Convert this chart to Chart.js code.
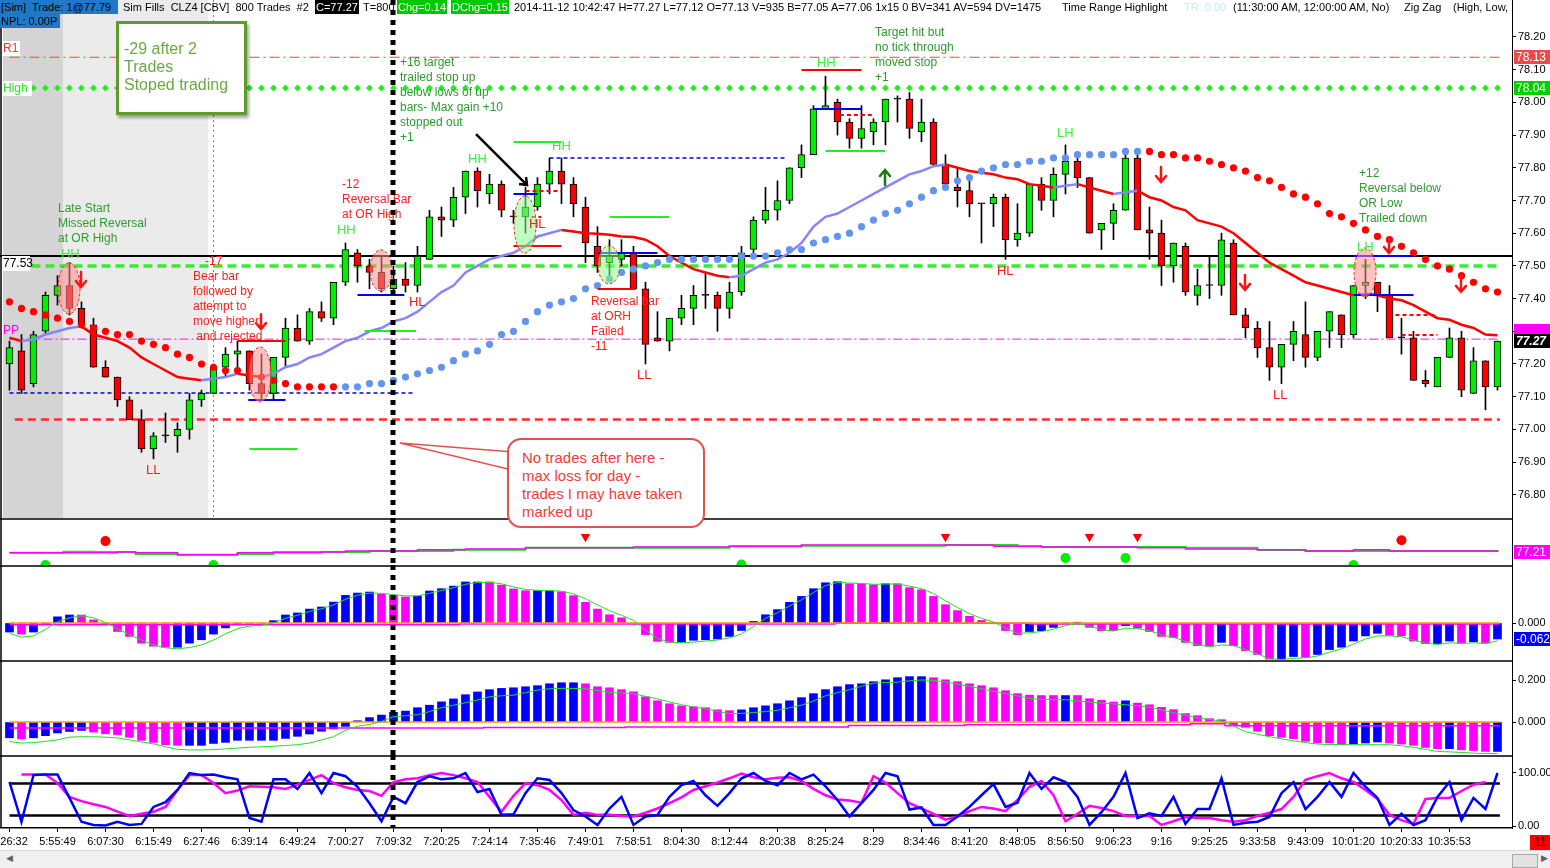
<!DOCTYPE html>
<html>
<head>
<meta charset="utf-8">
<title>CLZ4 800 Trades</title>
<script src="https://cdn.jsdelivr.net/npm/chart.js@4.4.1/dist/chart.umd.min.js"></script>
<style>
  html, body { margin: 0; padding: 0; background: #fff; }
  body { width: 1550px; height: 868px; position: relative; overflow: hidden; font-family: "Liberation Sans", Arial, sans-serif; }
  canvas { position: absolute; left: 0; }
  .hd { position: absolute; height: 14px; line-height: 14px; font-size: 11px; white-space: pre; padding: 0 1px; z-index: 4; color: #000; }
  .note-box { position: absolute; left: 116px; top: 21px; width: 125px; height: 88px; border: 3px solid #5e9a2c; background: #fff;
    box-shadow: 2px 3px 3px rgba(0,0,0,0.35); color: #6aa843; font-size: 16px; line-height: 18px; padding: 0; z-index: 6; }
  .note-box div { position: absolute; left: 5px; }
  .callout { position: absolute; left: 507px; top: 438px; width: 194px; height: 86px; border: 2px solid #e0524c; border-radius: 14px;
    background: #fff; color: #f03c3c; font-size: 15px; line-height: 18px; z-index: 6; }
  .callout div { position: absolute; left: 13px; white-space: nowrap; }
  .scroll { position: absolute; left: 0; top: 850px; width: 1550px; height: 18px; background: #f0f0f0; border-top: 1px solid #d8d8d8; z-index: 4; }
  .thumb { position: absolute; left: 1512px; top: 3px; width: 24px; height: 12px; background: #e2e2e2; border: 1px solid #a8a8a8; }
  .arrow { position: absolute; top: 2px; font-size: 9px; color: #606060; }
  .count { position: absolute; left: 1530px; top: 835px; width: 20px; height: 15px; line-height: 15px; background: #ff0000; color: #000; font-size: 12px; text-align: center; z-index: 5; }
</style>
</head>
<body>
<canvas id="c-price" width="1550" height="518" style="top:0"></canvas>
<canvas id="c-signal" width="1550" height="47" style="top:518px"></canvas>
<canvas id="c-osc1" width="1550" height="95" style="top:565px"></canvas>
<canvas id="c-osc2" width="1550" height="95" style="top:660px"></canvas>
<canvas id="c-stoch" width="1550" height="95" style="top:755px"></canvas>

<div class="hd" style="left:0;top:0;width:116px;background:#1f78c8">[Sim]  Trade: 1@77.79</div>
<div class="hd" style="left:0;top:14px;width:58px;background:#1f78c8">NPL: 0.00P</div>
<div class="hd" style="left:122px;top:0">Sim Fills  CLZ4 [CBV]  800 Trades  #2</div>
<div class="hd" style="left:315px;top:0;background:#000;color:#fff">C=77.27</div>
<div class="hd" style="left:362px;top:0">T=800</div>
<div class="hd" style="left:397px;top:0;background:#00c800;color:#fff">Chg=0.14</div>
<div class="hd" style="left:451px;top:0;background:#00c800;color:#fff">DChg=0.15</div>
<div class="hd" style="left:513px;top:0">2014-11-12 10:42:47 H=77.27 L=77.12 O=77.13 V=935 B=77.05 A=77.06 1x15 0 BV=341 AV=594 DV=1475</div>
<div class="hd" style="left:1061px;top:0">Time Range Highlight</div>
<div class="hd" style="left:1183px;top:0;color:#bdeef5">TR: 0.00</div>
<div class="hd" style="left:1232px;top:0">(11:30:00 AM, 12:00:00 AM, No)</div>
<div class="hd" style="left:1403px;top:0">Zig Zag</div>
<div class="hd" style="left:1452px;top:0">(High, Low,</div>

<div class="note-box">
  <div style="top:16px">-29 after 2</div>
  <div style="top:34px">Trades</div>
  <div style="top:52px">Stoped trading</div>
</div>

<svg style="position:absolute;left:0;top:0;z-index:5" width="1550" height="868">
  <polygon points="400,443 512,452 512,470" fill="#fff" stroke="#e0524c" stroke-width="1.5"/>
</svg>
<div class="callout">
  <div style="top:9px">No trades after here -</div>
  <div style="top:27px">max loss for day -</div>
  <div style="top:45px">trades I may have taken</div>
  <div style="top:63px">marked up</div>
</div>

<div class="count">11</div>
<div class="scroll">
  <span class="arrow" style="left:6px">&#9664;</span>
  <div class="thumb"></div>
  <span class="arrow" style="left:1541px">&#9654;</span>
</div>

<script>
// ---- price bars (800-trade bars, CLZ4) ----
const OPEN = [77.20,77.24,77.14,77.30,77.41,77.44,77.37,77.32,77.19,77.16,
  77.09,77.03,76.94,76.98,76.98,77.00,77.09,77.11,77.19,77.23,
  77.24,77.14,77.11,77.22,77.31,77.27,77.36,77.34,77.45,77.54,
  77.50,77.48,77.43,77.46,77.44,77.52,77.65,77.64,77.71,77.79,
  77.72,77.75,77.65,77.65,77.68,77.75,77.79,77.75,77.68,77.56,
  77.51,77.52,77.54,77.43,77.28,77.27,77.34,77.37,77.41,77.41,
  77.37,77.42,77.55,77.64,77.67,77.70,77.80,77.84,77.98,78.00,
  77.94,77.89,77.91,77.94,78.01,78.01,77.91,77.94,77.81,77.74,
  77.73,77.69,77.69,77.71,77.58,77.60,77.75,77.70,77.78,77.82,
  77.77,77.61,77.63,77.67,77.83,77.61,77.60,77.50,77.56,77.41,
  77.44,77.44,77.57,77.35,77.31,77.25,77.19,77.26,77.29,77.22,
  77.30,77.35,77.29,77.44,77.45,77.41,77.28,77.28,77.15,77.13,
  77.22,77.28,77.11,77.21,77.13];
const HIGH = [77.27,77.29,77.30,77.42,77.47,77.51,77.39,77.34,77.21,77.16,
  77.10,77.06,76.99,77.05,77.02,77.11,77.12,77.20,77.25,77.27,
  77.24,77.23,77.22,77.34,77.35,77.37,77.39,77.45,77.57,77.55,
  77.52,77.53,77.50,77.51,77.56,77.67,77.68,77.74,77.79,77.80,
  77.78,77.76,77.67,77.74,77.77,77.83,77.83,77.77,77.71,77.62,
  77.58,77.58,77.56,77.45,77.36,77.34,77.41,77.44,77.48,77.42,
  77.45,77.56,77.65,77.74,77.76,77.80,77.87,77.99,78.08,78.01,
  77.95,77.99,77.95,78.01,78.02,78.03,78.01,77.95,77.84,77.80,
  77.76,77.69,77.72,77.72,77.69,77.75,77.77,77.80,77.87,77.83,
  77.77,77.63,77.69,77.84,77.84,77.68,77.64,77.57,77.57,77.49,
  77.53,77.60,77.58,77.37,77.33,77.33,77.26,77.33,77.39,77.30,
  77.36,77.35,77.44,77.52,77.45,77.44,77.34,77.30,77.18,77.22,
  77.31,77.30,77.25,77.21,77.27];
const LOW = [77.12,77.11,77.13,77.29,77.38,77.35,77.31,77.19,77.16,77.07,
  77.03,76.93,76.91,76.96,76.93,76.97,77.07,77.11,77.16,77.17,
  77.12,77.09,77.09,77.19,77.27,77.26,77.33,77.32,77.44,77.45,
  77.43,77.42,77.42,77.42,77.42,77.52,77.59,77.62,77.66,77.68,
  77.69,77.65,77.63,77.60,77.67,77.72,77.69,77.65,77.51,77.48,
  77.47,77.50,77.43,77.20,77.27,77.24,77.32,77.32,77.37,77.30,
  77.34,77.41,77.54,77.63,77.64,77.69,77.77,77.84,77.98,77.90,
  77.86,77.86,77.87,77.87,77.94,77.89,77.88,77.81,77.74,77.68,
  77.65,77.57,77.62,77.52,77.56,77.59,77.67,77.65,77.72,77.74,
  77.60,77.55,77.58,77.67,77.61,77.52,77.44,77.45,77.41,77.38,
  77.40,77.41,77.35,77.28,77.22,77.15,77.14,77.21,77.19,77.21,
  77.25,77.25,77.28,77.40,77.36,77.28,77.23,77.15,77.13,77.13,
  77.22,77.10,77.11,77.06,77.12];
const CLOSE = [77.25,77.12,77.29,77.41,77.44,77.37,77.32,77.19,77.16,77.09,
  77.03,76.94,76.98,76.98,77.00,77.09,77.11,77.19,77.23,77.24,
  77.14,77.11,77.22,77.31,77.27,77.36,77.34,77.45,77.55,77.50,
  77.48,77.43,77.46,77.44,77.53,77.65,77.64,77.71,77.79,77.73,
  77.75,77.67,77.65,77.68,77.75,77.79,77.75,77.69,77.57,77.50,
  77.53,77.54,77.43,77.26,77.27,77.34,77.37,77.41,77.41,77.37,
  77.42,77.54,77.64,77.67,77.70,77.80,77.84,77.98,77.99,77.94,
  77.89,77.92,77.94,78.01,78.01,77.92,77.94,77.81,77.75,77.73,
  77.69,77.69,77.71,77.58,77.60,77.75,77.70,77.78,77.82,77.77,
  77.60,77.63,77.67,77.83,77.61,77.60,77.50,77.57,77.42,77.44,
  77.44,77.58,77.35,77.31,77.25,77.19,77.26,77.30,77.22,77.30,
  77.36,77.29,77.44,77.45,77.41,77.28,77.28,77.15,77.14,77.22,
  77.28,77.12,77.21,77.13,77.27];

// moving average (red falling / blue rising) and stop-and-reverse dots
const AVERAGE = [77.28,77.27,77.275,77.29,77.30,77.31,77.315,77.29,77.28,77.27,
  77.25,77.22,77.20,77.18,77.16,77.155,77.15,77.155,77.16,77.17,
  77.165,77.16,77.17,77.19,77.20,77.22,77.23,77.25,77.27,77.28,
  77.30,77.31,77.33,77.34,77.36,77.39,77.42,77.44,77.48,77.50,
  77.52,77.53,77.54,77.56,77.59,77.60,77.61,77.605,77.60,77.598,
  77.595,77.59,77.588,77.58,77.56,77.53,77.51,77.49,77.48,77.47,
  77.465,77.47,77.49,77.51,77.52,77.54,77.57,77.62,77.65,77.66,
  77.68,77.70,77.72,77.74,77.76,77.78,77.79,77.805,77.81,77.80,
  77.79,77.785,77.78,77.77,77.765,77.75,77.745,77.74,77.745,77.75,
  77.74,77.73,77.72,77.725,77.73,77.71,77.70,77.68,77.67,77.64,
  77.63,77.62,77.60,77.57,77.54,77.51,77.49,77.47,77.45,77.44,
  77.43,77.42,77.41,77.415,77.41,77.40,77.395,77.38,77.36,77.34,
  77.335,77.32,77.31,77.29,77.288];
const SAR = [77.39,77.37,77.36,77.35,77.34,77.33,77.32,77.31,77.30,77.29,
  77.29,77.27,77.26,77.25,77.23,77.22,77.20,77.19,77.18,77.18,
  77.17,77.16,77.15,77.14,77.13,77.13,77.13,77.13,77.13,77.13,
  77.14,77.14,77.15,77.16,77.17,77.18,77.19,77.21,77.23,77.24,
  77.26,77.29,77.30,77.33,77.36,77.38,77.39,77.40,77.43,77.44,
  77.46,77.48,77.49,77.50,77.51,77.52,77.52,77.52,77.52,77.52,
  77.52,77.53,77.53,77.53,77.54,77.55,77.55,77.57,77.58,77.59,
  77.60,77.62,77.64,77.66,77.67,77.69,77.71,77.73,77.74,77.76,
  77.77,77.79,77.80,77.81,77.81,77.82,77.82,77.83,77.83,77.84,
  77.84,77.84,77.84,77.85,77.85,77.85,77.84,77.84,77.83,77.83,
  77.82,77.81,77.80,77.79,77.77,77.76,77.74,77.72,77.71,77.69,
  77.66,77.65,77.63,77.61,77.59,77.58,77.56,77.54,77.52,77.50,
  77.49,77.47,77.45,77.43,77.42];
const SAR_FLIPS = [28, 95];

// horizontal levels
const R1_LEVEL = 78.138;
const HIGH_LEVEL = 78.044;
const OR_HIGH = 77.53;
const OR_LEVEL = 77.50;
const PP_LEVEL = 77.276;
const OR_LOW_DASH = 77.03;
const EARLY_LOW = 77.111;

// stops / targets drawn by the trader: [fromBar, toBar, price]
const STOP_BLUE = [[19.9,23,77.09],[29,32.9,77.41],[42,44,77.72],[49,54,77.54],[67,71,77.98],[112,117,77.53],[112,117,77.41]];
const STOP_RED = [[19,23,77.27],[42,46,77.56],[49,52.2,77.43],[66,71,78.10]];
const STOP_RED_DASH = [[43,46,77.73],[69.2,72.1,77.96],[115.5,119,77.35],[116,119,77.29],[43.5,44.3,77.65]];
const TARGET_GREEN = [[20,24,76.94],[29.6,33.9,77.30],[42,46,77.88],[50,55,77.65],[68,73,77.85]];
const SWING_DASH = [[45,64.6,77.83]];

// notes: [bar, price] of first line
const NOTES_GREEN = [
  { at: [4.04, 77.674], lines: ['Late Start', 'Missed Reversal', 'at OR High'] },
  { at: [32.54, 78.120], lines: ['+16 target', 'trailed stop up', 'below lows of up', 'bars- Max gain +10', 'stopped out', '+1'] },
  { at: [72.13, 78.212], lines: ['Target hit but', 'no tick through', 'moved stop', '+1'] },
  { at: [112.46, 77.781], lines: ['+12', 'Reversal below', 'OR Low', 'Trailed down'] }
];
const NOTES_RED = [
  { at: [16.29, 77.512], lines: ['-17'] },
  { at: [15.29, 77.466], lines: ['Bear bar', 'followed by', 'attempt to', 'move higher', ' and rejected'] },
  { at: [27.71, 77.747], lines: ['-12', 'Reversal Bar', 'at OR High'] },
  { at: [48.46, 77.390], lines: ['Reversal bar', 'at ORH', 'Failed', '-11'] }
];
const SWING_HIGHS = [['HH',4.29,77.536],['HH',27.29,77.607],['HH',38.21,77.827],['HH',45.21,77.864],['HH',67.29,78.120],['LH',87.29,77.906],['LH',112.29,77.555]];
const SWING_LOWS = [['HL',33.29,77.387],['HL',43.29,77.628],['HL',82.29,77.484],['LL',11.38,76.876],['LL',52.29,77.166],['LL',105.29,77.105]];
const TRADE_PINK = [[4.96,77.509,77.353],[30.96,77.549,77.423],[20.88,77.252,77.084],[112.96,77.555,77.405]];
const TRADE_GREEN = [[42.96,77.714,77.539],[49.96,77.561,77.445]];
const ARROWS_DOWN = [[5.96,77.457],[20.96,77.328],[95.96,77.778],[102.96,77.448],[114.96,77.561],[120.96,77.442]];
const ARROWS_UP = [[72.96,77.772]];
const POINTER = [[38.88,77.903],[43.13,77.747]];

// session shading and the cut-off bar
const TIME_ZONES = [[-0.54, 4.46], [4.46, 16.54]];
const SESSION_MARK = 16.96;
const CUTOFF_BAR = 32;

// signal strip
const SIG_MAIN = [[0,77.211],[9,77.213],[10.5,77.211],[14,77.206],[19,77.211],[26,77.213],[28,77.216],[34,77.219],[38,77.221],[43,77.224],[52,77.226],[60,77.228],[66,77.231],[78,77.231],[82,77.228],[86,77.226],[94,77.224],[98,77.221],[104,77.219],[108,77.216],[112,77.219],[115,77.216],[124,77.213]];
const SIG_ALT = [[0,77.211],[4.5,77.214],[7,77.213],[10.5,77.208],[14,77.206],[19,77.208],[22,77.213],[30,77.216],[37,77.219],[43,77.224],[52,77.224],[60,77.228],[66,77.229],[78,77.231],[84,77.228],[86,77.226],[93,77.226],[98,77.224],[104,77.218],[108,77.216],[113,77.216],[124,77.214]];
const SELL_DOTS = [[8,77.241],[116,77.243]];
const SELL_MARKS = [[48,77.252],[78,77.252],[90,77.252],[94,77.252]];
const BUY_DOTS = [[3,77.18],[17,77.18],[61,77.181],[88,77.198],[93,77.198],[112,77.18]];

// oscillator 1
const HIST1 = [-0.035,-0.043,-0.035,-0.005,0.024,0.031,0.031,0.012,-0.005,-0.033,
  -0.052,-0.078,-0.090,-0.094,-0.094,-0.078,-0.065,-0.043,-0.019,-0.006,
  -0.005,-0.005,0.009,0.031,0.039,0.054,0.062,0.081,0.107,0.116,
  0.120,0.112,0.107,0.101,0.105,0.124,0.133,0.143,0.159,0.159,
  0.159,0.147,0.132,0.125,0.125,0.125,0.121,0.106,0.080,0.054,
  0.032,0.020,-0.002,-0.045,-0.071,-0.075,-0.075,-0.067,-0.065,-0.062,
  -0.052,-0.029,0.006,0.032,0.052,0.080,0.103,0.133,0.156,0.160,
  0.152,0.152,0.148,0.152,0.152,0.137,0.129,0.103,0.071,0.048,
  0.026,0.010,-0.003,-0.029,-0.045,-0.033,-0.030,-0.017,0.000,0.003,
  -0.017,-0.030,-0.030,-0.010,-0.020,-0.033,-0.052,-0.056,-0.075,-0.088,
  -0.090,-0.075,-0.088,-0.107,-0.122,-0.140,-0.138,-0.130,-0.133,-0.122,
  -0.103,-0.094,-0.070,-0.050,-0.040,-0.048,-0.050,-0.070,-0.080,-0.080,
  -0.070,-0.078,-0.073,-0.078,-0.062];
const HIST1_SIDE = 'bmbbbbmmmm' + 'mmmmbbbbbb' + 'mmbbbbbbbb' + 'bmmmbbbbbb' + 'mmmmbbmmmm' +
  'mmmmmmbbbb' + 'bbbbbbbbbb' + 'mmmbmmmmmm' + 'mmmmmbbbbb' + 'mmmbmmmmmm' +
  'mbmmmmbbmb' + 'bbbbbmmmmb' + 'bmbmb';
const SIGNAL1 = [-0.040,-0.055,-0.050,-0.025,0.005,0.020,0.028,0.020,0.002,-0.022,
  -0.045,-0.066,-0.085,-0.096,-0.100,-0.095,-0.085,-0.066,-0.042,-0.022,
  -0.012,-0.009,0.000,0.018,0.030,0.045,0.055,0.070,0.092,0.108,
  0.116,0.115,0.110,0.105,0.105,0.115,0.126,0.137,0.150,0.157,
  0.158,0.152,0.140,0.130,0.127,0.126,0.123,0.113,0.094,0.070,
  0.048,0.030,0.010,-0.028,-0.060,-0.074,-0.077,-0.074,-0.070,-0.066,
  -0.058,-0.042,-0.014,0.018,0.040,0.066,0.090,0.118,0.145,0.157,
  0.155,0.153,0.150,0.151,0.151,0.143,0.133,0.114,0.086,0.060,
  0.036,0.018,0.004,-0.020,-0.040,-0.038,-0.033,-0.024,-0.010,-0.002,
  -0.012,-0.026,-0.031,-0.020,-0.021,-0.030,-0.046,-0.056,-0.070,-0.084,
  -0.092,-0.085,-0.088,-0.103,-0.120,-0.138,-0.142,-0.137,-0.135,-0.128,
  -0.113,-0.100,-0.082,-0.062,-0.050,-0.050,-0.053,-0.066,-0.078,-0.083,
  -0.077,-0.079,-0.077,-0.079,-0.069];
const LEVEL1_LOW = [[0,-0.007],[37.5,-0.004],[68.8,-0.001],[85,-0.004],[124.2,-0.004]];

// oscillator 2
const HIST2 = [-0.075,-0.080,-0.075,-0.065,-0.052,-0.045,-0.040,-0.048,-0.056,-0.060,
  -0.073,-0.087,-0.097,-0.108,-0.111,-0.111,-0.111,-0.102,-0.097,-0.087,
  -0.087,-0.087,-0.087,-0.078,-0.068,-0.057,-0.044,-0.033,-0.021,0.006,
  0.021,0.033,0.046,0.052,0.068,0.080,0.096,0.110,0.130,0.143,
  0.154,0.160,0.163,0.168,0.173,0.182,0.187,0.187,0.182,0.168,
  0.163,0.154,0.144,0.120,0.101,0.087,0.077,0.073,0.068,0.058,
  0.054,0.058,0.068,0.077,0.087,0.101,0.116,0.135,0.154,0.168,
  0.178,0.182,0.192,0.201,0.211,0.216,0.216,0.211,0.201,0.192,
  0.182,0.173,0.163,0.149,0.135,0.128,0.126,0.126,0.126,0.126,
  0.111,0.103,0.095,0.101,0.090,0.082,0.070,0.059,0.040,0.030,
  0.016,0.011,-0.013,-0.025,-0.044,-0.065,-0.073,-0.079,-0.092,-0.100,
  -0.100,-0.108,-0.105,-0.100,-0.095,-0.100,-0.105,-0.111,-0.121,-0.127,
  -0.127,-0.132,-0.136,-0.140,-0.140];
const HIST2_SIDE = 'bmbbbbbmmm' + 'mmmmmbbbbb' + 'bbbbbbbbbb' + 'bbbbbbbbbb' + 'bbbbbbbbmm' +
  'mmmmmmmmmm' + 'mbbbbbbbbb' + 'bbbbbbbmmm' + 'mmmmmmmmbm' + 'mmmbmmmmmm' +
  'mmmmmmmmmm' + 'mmbbbmmmmm' + 'bmmmb';
const SIGNAL2 = [-0.093,-0.100,-0.098,-0.092,-0.085,-0.072,-0.070,-0.070,-0.072,-0.076,
  -0.085,-0.095,-0.104,-0.118,-0.130,-0.133,-0.133,-0.131,-0.128,-0.124,
  -0.120,-0.118,-0.115,-0.112,-0.108,-0.100,-0.085,-0.070,-0.040,-0.020,
  -0.012,0.003,0.025,0.030,0.035,0.050,0.068,0.080,0.092,0.105,
  0.120,0.125,0.128,0.140,0.152,0.158,0.160,0.160,0.158,0.150,
  0.140,0.138,0.135,0.122,0.110,0.096,0.082,0.072,0.063,0.050,
  0.041,0.041,0.045,0.050,0.056,0.068,0.080,0.100,0.125,0.140,
  0.154,0.170,0.185,0.188,0.190,0.196,0.200,0.198,0.190,0.180,
  0.170,0.158,0.146,0.135,0.125,0.112,0.108,0.106,0.106,0.100,
  0.095,0.090,0.086,0.082,0.078,0.070,0.058,0.044,0.032,0.020,
  0.012,0.005,-0.020,-0.046,-0.058,-0.070,-0.080,-0.090,-0.098,-0.105,
  -0.107,-0.108,-0.108,-0.108,-0.108,-0.108,-0.113,-0.120,-0.130,-0.140,
  -0.142,-0.145,-0.148,-0.150,-0.150];
const LEVEL2_LOW = [[0,-0.028],[39.5,-0.026],[51.3,-0.024],[69.9,-0.016],[79.6,-0.013],[98.4,-0.008],[101.3,-0.018],[124.2,-0.018]];

// stochastic
const STOCH_K = [83,8,96,97,97,53,8,2,1,8,
  2,4,36,45,68,100,96,97,92,88,
  15,8,88,88,70,100,62,100,94,74,
  43,9,55,43,83,94,88,90,100,64,
  70,21,22,62,90,87,62,30,18,2,
  33,55,2,18,21,55,77,85,58,38,
  62,90,100,85,77,100,88,97,75,49,
  18,43,68,100,94,31,35,2,2,18,
  36,58,79,36,44,100,70,92,83,55,
  2,26,55,100,15,24,19,55,4,32,
  32,90,2,6,8,17,62,83,32,55,
  83,55,100,74,53,2,23,2,11,55,
  83,11,53,32,100];
const STOCH_D = [null,97,97,97,81,55,47,41,36,27,
  19,23,27,36,68,96,96,81,62,67,
  75,74,73,70,78,87,96,81,73,68,
  66,57,83,88,90,96,100,96,90,83,
  55,27,57,81,77,68,49,21,25,21,
  21,19,18,25,33,43,54,68,75,82,
  90,99,92,88,91,92,85,70,58,50,
  48,44,94,82,62,43,33,23,12,18,
  28,36,33,28,49,74,85,58,9,23,
  38,34,28,19,19,19,2,9,17,15,
  15,11,8,11,19,25,32,55,87,94,
  100,90,83,68,51,21,11,4,51,53,
  53,66,78,83,null];
const STOCH_BANDS = [80, 20];

// axes
const PRICE_TICKS = [76.8,76.9,77.0,77.1,77.2,77.3,77.4,77.5,77.6,77.7,77.8,77.9,78.0,78.1,78.2];
const OSC1_TICKS = [0];
const OSC2_TICKS = [0, 0.2];
const STOCH_TICKS = [0, 100];
const TIME_LABELS = ['5:26:32','5:55:49','6:07:30','6:15:49','6:27:46','6:39:14','6:49:24','7:00:27','7:09:32','7:20:25',
  '7:24:14','7:35:46','7:49:01','7:58:51','8:04:30','8:12:44','8:20:38','8:25:24','8:29','8:34:46',
  '8:41:20','8:48:05','8:56:50','9:06:23','9:16','9:25:25','9:33:58','9:43:09','10:01:20','10:20:33','10:35:53'];
const TIME_STEP = 4;

// ---- styling ----
const FONT = '"Liberation Sans", Arial, sans-serif';
const UP = '#00ee00', DOWN = '#ff0000';
const MA_DOWN = '#ff0000', MA_UP = '#8585ff';
const SAR_BLUE = '#6495ed';
const HBLUE = '#0000ff', HMAG = '#ff00ff';
const NOTE_GREEN = '#2f9a2f', NOTE_RED = '#ff2020';
const X_MIN = -0.79, X_MAX = 125.21;
const AXIS_W = 38;

Chart.defaults.font.family = FONT;
Chart.defaults.font.size = 11;
Chart.defaults.color = '#000';
Chart.defaults.animation = false;

const pts = arr => arr.map((v, i) => ({ x: i, y: v }));
const pairs = arr => arr.map(([x, y]) => ({ x, y }));
const flat = (v, x0, x1) => [{ x: x0, y: v }, { x: x1, y: v }];

function yAxis(min, max, ticks, digits, showTicks) {
  return {
    position: 'right', min, max,
    afterBuildTicks: s => { s.ticks = ticks.map(v => ({ value: v })); },
    afterFit: s => { s.width = AXIS_W; s.paddingTop = 0; s.paddingBottom = 0; },
    grid: { drawOnChartArea: false, drawTicks: showTicks, tickLength: 4, color: '#000' },
    border: { display: true, color: '#000', width: 1 },
    ticks: { display: showTicks, padding: 2, color: '#000', font: { size: 11 }, callback: v => Number(v).toFixed(digits) }
  };
}

function baseOptions(y, showX) {
  return {
    responsive: false, animation: false, devicePixelRatio: 1, events: [],
    layout: { padding: 0, autoPadding: false },
    plugins: { legend: { display: false }, tooltip: { enabled: false } },
    scales: {
      x: showX ? {
        type: 'linear', min: X_MIN, max: X_MAX, offset: false, position: 'bottom',
        afterBuildTicks: s => { s.ticks = TIME_LABELS.map((_, k) => ({ value: k * TIME_STEP })); },
        afterFit: s => { s.height = 22; s.paddingLeft = 0; s.paddingRight = 0; },
        grid: { drawOnChartArea: false, tickLength: 4, color: '#000', offset: false },
        border: { display: true, color: '#000', width: 1.5 },
        ticks: { autoSkip: false, maxRotation: 0, padding: 3, color: '#000', font: { size: 11 }, callback: (v, k) => TIME_LABELS[k] }
      } : { type: 'linear', min: X_MIN, max: X_MAX, offset: false, display: false, grid: { offset: false } },
      y
    }
  };
}

function rightTag(chart, value, text, bg, fg, bold) {
  const { ctx } = chart;
  const y = Math.round(chart.scales.y.getPixelForValue(value));
  const x0 = chart.chartArea.right + 2;
  ctx.save();
  ctx.fillStyle = bg;
  ctx.fillRect(x0, y - 7, 1550 - x0, 14);
  if (text) {
    ctx.fillStyle = fg;
    ctx.font = (bold ? 'bold italic ' : '') + '12px ' + FONT;
    ctx.textBaseline = 'middle';
    ctx.fillText(text, x0 + 2, y + 1);
  }
  ctx.restore();
}

// frame + cut-off line on every pane
const framePlugin = {
  id: 'frame',
  afterDraw(chart) {
    const { ctx, chartArea: a, scales: { x } } = chart;
    ctx.save();
    ctx.strokeStyle = '#000';
    ctx.lineWidth = 5;
    ctx.setLineDash([5, 5]);
    const px = Math.round(x.getPixelForValue(CUTOFF_BAR));
    ctx.beginPath(); ctx.moveTo(px, a.top); ctx.lineTo(px, a.bottom); ctx.stroke();
    ctx.setLineDash([]);
    ctx.lineWidth = 1.5;
    ctx.beginPath();
    if (chart.canvas.id !== 'c-price') { ctx.moveTo(0, a.top + 1); ctx.lineTo(a.right, a.top + 1); }
    ctx.moveTo(1, a.top); ctx.lineTo(1, a.bottom);
    ctx.stroke();
    ctx.restore();
  }
};

function hsegs(ctx, x, y, list, color, width, dash) {
  ctx.save();
  ctx.strokeStyle = color; ctx.lineWidth = width; ctx.setLineDash(dash || []);
  list.forEach(([a, b, v]) => {
    const py = Math.round(y.getPixelForValue(v));
    ctx.beginPath(); ctx.moveTo(x.getPixelForValue(a), py); ctx.lineTo(x.getPixelForValue(b), py); ctx.stroke();
  });
  ctx.restore();
}

function notes(ctx, x, y, list, color) {
  ctx.save();
  ctx.fillStyle = color; ctx.font = '12px ' + FONT; ctx.textBaseline = 'middle';
  list.forEach(n => {
    const px = x.getPixelForValue(n.at[0]);
    let py = y.getPixelForValue(n.at[1]);
    n.lines.forEach(t => { ctx.fillText(t, px, py); py += 15; });
  });
  ctx.restore();
}

function swings(ctx, x, y, list, color) {
  ctx.save();
  ctx.fillStyle = color; ctx.font = '13px ' + FONT; ctx.textBaseline = 'middle';
  list.forEach(([t, b, v]) => ctx.fillText(t, x.getPixelForValue(b), y.getPixelForValue(v)));
  ctx.restore();
}

function ellipses(ctx, x, y, list, fill) {
  ctx.save();
  list.forEach(([b, top, bot]) => {
    const cx = x.getPixelForValue(b), y0 = y.getPixelForValue(top), y1 = y.getPixelForValue(bot);
    ctx.beginPath();
    ctx.ellipse(cx, (y0 + y1) / 2, 11, (y1 - y0) / 2, 0, 0, Math.PI * 2);
    ctx.fillStyle = fill; ctx.fill();
    ctx.strokeStyle = '#ff2020'; ctx.lineWidth = 1; ctx.setLineDash([3, 2]); ctx.stroke();
  });
  ctx.restore();
}

function arrows(ctx, x, y, list, color, dir) {
  ctx.save();
  ctx.strokeStyle = color; ctx.lineWidth = 2.5; ctx.lineCap = 'round';
  list.forEach(([b, v]) => {
    const cx = Math.round(x.getPixelForValue(b)), cy = y.getPixelForValue(v);
    ctx.beginPath();
    ctx.moveTo(cx, cy - 8 * dir); ctx.lineTo(cx, cy + 7 * dir);
    ctx.moveTo(cx - 5, cy + 1 * dir); ctx.lineTo(cx, cy + 7 * dir); ctx.lineTo(cx + 5, cy + 1 * dir);
    ctx.stroke();
  });
  ctx.restore();
}

const priceOverlay = {
  id: 'priceOverlay',
  beforeDatasetsDraw(chart) {
    const { ctx, chartArea: a, scales: { x } } = chart;
    const fills = ['#d4d4d4', '#ebebeb'];
    ctx.save();
    TIME_ZONES.forEach(([f, t], k) => {
      const x0 = Math.max(2, x.getPixelForValue(f)), x1 = x.getPixelForValue(t);
      ctx.fillStyle = fills[k];
      ctx.fillRect(x0, a.top, x1 - x0, a.bottom - a.top);
    });
    ctx.strokeStyle = '#808080'; ctx.lineWidth = 1; ctx.setLineDash([2, 3]);
    const gx = Math.round(x.getPixelForValue(SESSION_MARK)) + 0.5;
    ctx.beginPath(); ctx.moveTo(gx, a.top); ctx.lineTo(gx, a.bottom); ctx.stroke();
    ctx.restore();
  },
  afterDatasetsDraw(chart) {
    const { ctx, scales: { x, y } } = chart;
    hsegs(ctx, x, y, SWING_DASH, '#0000dd', 1.5, [4, 3]);
    hsegs(ctx, x, y, STOP_BLUE, '#0000ee', 2);
    hsegs(ctx, x, y, STOP_RED, '#ff0000', 2);
    hsegs(ctx, x, y, STOP_RED_DASH, '#ff0000', 2, [4, 3]);
    hsegs(ctx, x, y, TARGET_GREEN, '#22ee22', 2);
    ellipses(ctx, x, y, TRADE_PINK, 'rgba(255,140,140,0.55)');
    ellipses(ctx, x, y, TRADE_GREEN, 'rgba(140,255,140,0.55)');
    arrows(ctx, x, y, ARROWS_DOWN, '#ff1010', 1);
    arrows(ctx, x, y, ARROWS_UP, '#157a15', -1);
    // pointer arrow
    const [p0, p1] = POINTER.map(([b, v]) => [x.getPixelForValue(b), y.getPixelForValue(v)]);
    ctx.save();
    ctx.strokeStyle = '#000'; ctx.lineWidth = 2.5;
    ctx.beginPath(); ctx.moveTo(p0[0], p0[1]); ctx.lineTo(p1[0], p1[1]);
    ctx.moveTo(p1[0] - 8, p1[1] - 1); ctx.lineTo(p1[0], p1[1]); ctx.lineTo(p1[0] - 1, p1[1] - 8);
    ctx.stroke();
    ctx.restore();
    notes(ctx, x, y, NOTES_GREEN, NOTE_GREEN);
    notes(ctx, x, y, NOTES_RED, NOTE_RED);
    swings(ctx, x, y, SWING_HIGHS, '#3cf03c');
    swings(ctx, x, y, SWING_LOWS, '#ff1a1a');
    // left tags
    ctx.save();
    ctx.font = '12px ' + FONT; ctx.textBaseline = 'middle';
    [['R1', R1_LEVEL, '#ff3030', -9, 18], ['High', HIGH_LEVEL, '#22ee22', 0, 30], [OR_HIGH.toFixed(2), OR_HIGH, '#000', 7, 28], ['PP', PP_LEVEL, '#ff00ff', -9, 16]]
      .forEach(([t, v, c, dy, w]) => {
        const py = Math.round(y.getPixelForValue(v)) + dy;
        if (t !== 'PP') { ctx.fillStyle = '#fff'; ctx.fillRect(2, py - 7, w, 15); }
        ctx.fillStyle = c; ctx.fillText(t, 3, py + 1);
      });
    ctx.restore();
    rightTag(chart, R1_LEVEL, '78.13', '#f04848', '#fff');
    rightTag(chart, HIGH_LEVEL, HIGH_LEVEL.toFixed(2), '#00d000', '#fff');
    rightTag(chart, 77.30, '', '#ff00ff', '#fff');
    rightTag(chart, CLOSE[CLOSE.length - 1], CLOSE[CLOSE.length - 1].toFixed(2), '#000', '#fff', true);
  }
};

const candleColor = OPEN.map((o, i) => CLOSE[i] > o ? UP : CLOSE[i] < o ? DOWN : '#000');

new Chart(document.getElementById('c-price'), {
  type: 'bar',
  data: {
    datasets: [
      { type: 'line', data: pts(SAR), showLine: false, pointRadius: 3.6, pointBorderWidth: 0,
        pointBackgroundColor: c => (c.dataIndex < SAR_FLIPS[0] || c.dataIndex >= SAR_FLIPS[1]) ? '#ff0000' : SAR_BLUE, order: 1 },
      { type: 'line', data: pts(AVERAGE), borderWidth: 2.5, pointRadius: 0, order: 2,
        segment: { borderColor: c => c.p1.parsed.y <= c.p0.parsed.y ? MA_DOWN : MA_UP } },
      { type: 'bar', data: OPEN.map((o, i) => ({ x: i, y: [o, CLOSE[i]] })), backgroundColor: candleColor,
        borderColor: '#000', borderWidth: 1, borderSkipped: false, barThickness: 7, minBarLength: 1, grouped: false, order: 3 },
      { type: 'bar', data: LOW.map((l, i) => ({ x: i, y: [l, HIGH[i]] })), backgroundColor: '#000',
        borderWidth: 0, barThickness: 1, grouped: false, order: 4 },
      { type: 'line', data: flat(OR_HIGH, X_MIN, X_MAX), borderColor: '#000', borderWidth: 2, pointRadius: 0, order: 5 },
      { type: 'line', data: flat(OR_LEVEL, -0.5, 124.3), borderColor: '#33ee33', borderWidth: 3.5, borderDash: [9, 5], pointRadius: 0, order: 6 },
      { type: 'line', data: flat(R1_LEVEL, 0, 124.2), borderColor: '#ff4040', borderWidth: 1, borderDash: [10, 4, 2, 4], pointRadius: 0, order: 7 },
      { type: 'line', data: pts(OPEN.map(() => HIGH_LEVEL)), showLine: false, pointStyle: 'rectRot', pointRadius: 3.4,
        pointBorderWidth: 0, pointBackgroundColor: '#22ee22', order: 8 },
      { type: 'line', data: flat(PP_LEVEL, 0, 124.2), borderColor: '#e020e0', borderWidth: 1, borderDash: [9, 3, 2, 3], pointRadius: 0, order: 9 },
      { type: 'line', data: flat(OR_LOW_DASH, 0.45, 124.2), borderColor: '#ff2a2a', borderWidth: 2.5, borderDash: [8, 5], pointRadius: 0, order: 10 },
      { type: 'line', data: flat(EARLY_LOW, 0, 33.8), borderColor: '#0000dd', borderWidth: 1.5, borderDash: [4, 3], pointRadius: 0, order: 11 }
    ]
  },
  options: baseOptions(yAxis(76.729, 78.3131, PRICE_TICKS, 2, true), false),
  plugins: [priceOverlay, framePlugin]
});

// signal strip
new Chart(document.getElementById('c-signal'), {
  type: 'bar',
  data: {
    datasets: [
      { type: 'line', data: pairs(SELL_DOTS), showLine: false, pointRadius: 5, pointBorderWidth: 0, pointBackgroundColor: '#ff0000' },
      { type: 'line', data: pairs(SELL_MARKS), showLine: false, pointStyle: 'triangle', rotation: 180, pointRadius: 5.5, pointBorderWidth: 0, pointBackgroundColor: '#ff0000' },
      { type: 'line', data: pairs(BUY_DOTS), showLine: false, pointRadius: 5, pointBorderWidth: 0, pointBackgroundColor: '#00ee00' },
      { type: 'line', data: pairs(SIG_MAIN), stepped: true, borderColor: '#ff00ff', borderWidth: 1.5, pointRadius: 0 },
      { type: 'line', data: pairs(SIG_ALT), stepped: true, borderColor: '#22dd22', borderWidth: 2, pointRadius: 0 }
    ]
  },
  options: baseOptions(yAxis(77.18, 77.30, [], 2, false), false),
  plugins: [framePlugin, { id: 'sigTag', afterDatasetsDraw: c => rightTag(c, SIG_MAIN[SIG_MAIN.length - 1][1], SIG_MAIN[SIG_MAIN.length - 1][1].toFixed(2), '#ff00ff', '#fff') }]
});

function oscChart(id, hist, side, signal, low, min, max, ticks, lastTag) {
  return new Chart(document.getElementById(id), {
    type: 'bar',
    data: {
      datasets: [
        { type: 'line', data: pts(signal), borderColor: '#22dd22', borderWidth: 1, pointRadius: 0 },
        { type: 'line', data: flat(0, 0, 124.2), borderColor: '#ff9900', borderWidth: 1.5, pointRadius: 0 },
        { type: 'line', data: pairs(low), stepped: true, borderColor: '#ff00ff', borderWidth: 1.5, pointRadius: 0 },
        { type: 'bar', data: pts(hist), backgroundColor: hist.map((_, i) => side[i] === 'b' ? HBLUE : HMAG), barThickness: 8, borderWidth: 0 }
      ]
    },
    options: baseOptions(yAxis(min, max, ticks, 3, true), false),
    plugins: [framePlugin, { id: id + 'Tag', afterDatasetsDraw: c => { if (lastTag) rightTag(c, hist[hist.length - 1], hist[hist.length - 1].toFixed(3), HBLUE, '#fff'); } }]
  });
}
oscChart('c-osc1', HIST1, HIST1_SIDE, SIGNAL1, LEVEL1_LOW, -0.1434, 0.2248, OSC1_TICKS, true);
oscChart('c-osc2', HIST2, HIST2_SIDE, SIGNAL2, LEVEL2_LOW, -0.157, 0.2952, OSC2_TICKS, false);

// stochastic + time axis
new Chart(document.getElementById('c-stoch'), {
  type: 'line',
  data: {
    datasets: [
      { data: pts(STOCH_K), borderColor: '#0000ff', borderWidth: 2.5, pointRadius: 0 },
      { data: pts(STOCH_D), borderColor: '#ff00ff', borderWidth: 2.5, pointRadius: 0 },
      { data: flat(STOCH_BANDS[0], 0, 124.2), borderColor: '#000', borderWidth: 2.5, pointRadius: 0 },
      { data: flat(STOCH_BANDS[1], 0, 124.2), borderColor: '#000', borderWidth: 2.5, pointRadius: 0 }
    ]
  },
  options: baseOptions(yAxis(-3.77, 133.96, STOCH_TICKS, 2, true), true),
  plugins: [framePlugin]
});
</script>
</body>
</html>
